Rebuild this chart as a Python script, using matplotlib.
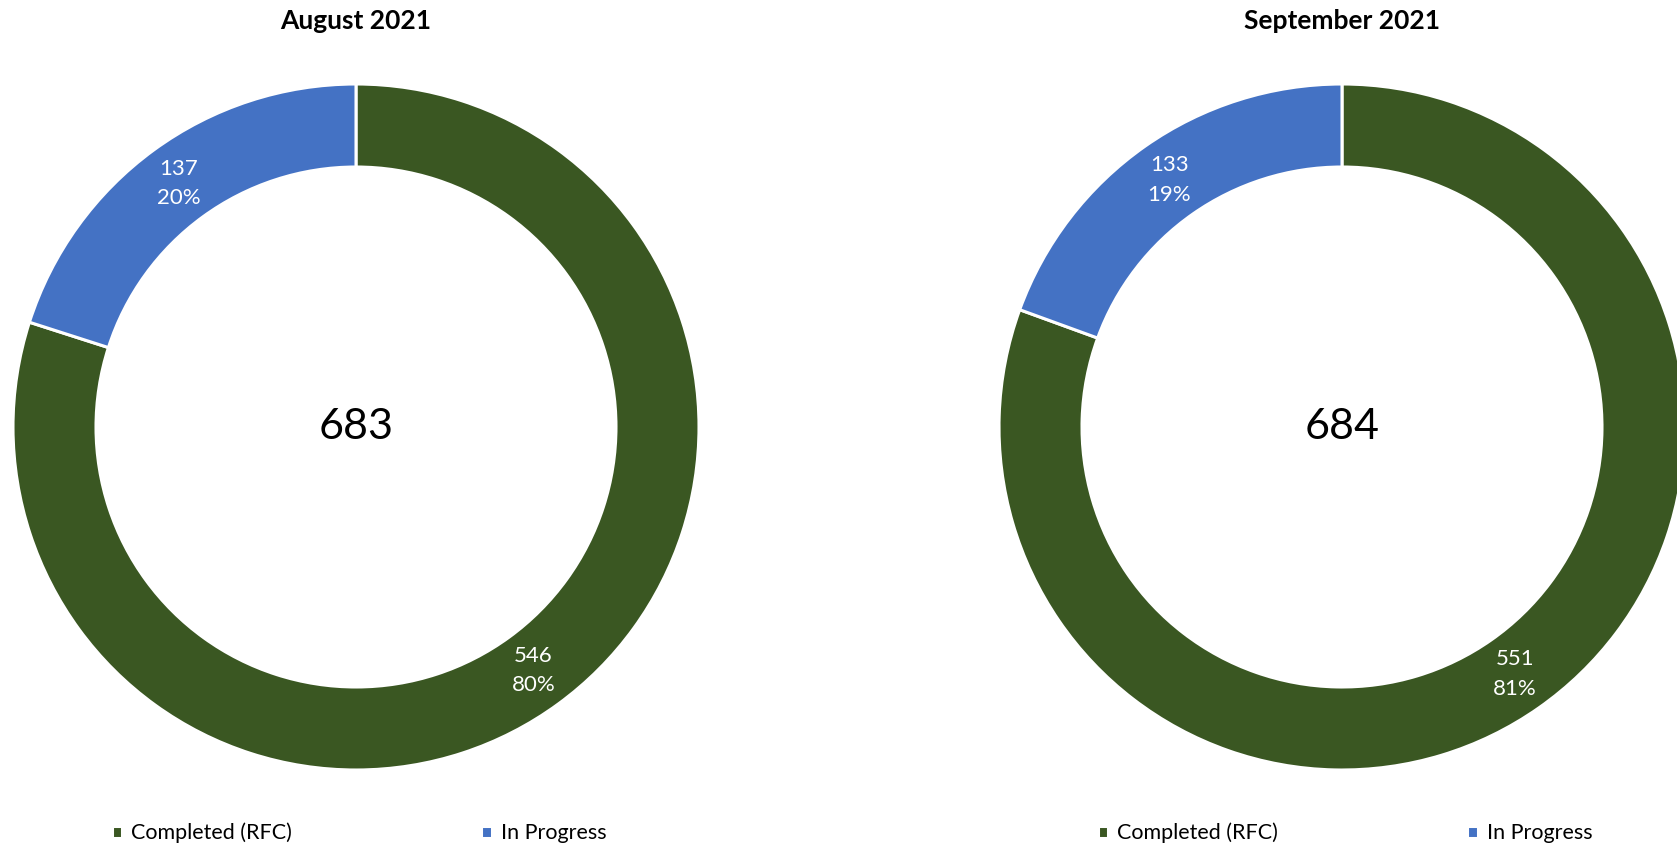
import matplotlib.pyplot as plt

plt.rcParams['font.family'] = ['Lato', 'DejaVu Sans']

# Datos
months = ['August 2021', 'September 2021']
categories = ['Completed (RFC)', 'In Progress']
completed = [546, 551]
in_progress = [137, 133]
colors = ['#3A5722', '#4472C4']

W, H = 1677, 848
fig = plt.figure(figsize=(W / 100, H / 100), dpi=100)

# centro de cada donut en pixeles (desde arriba) y radio
centers_x = [356, 1342]
center_y = 427
R = 343
ring = 0.242


def make_autopct(vals):
    total = sum(vals)

    def fmt(pct):
        n = int(round(pct * total / 100.0))
        return f'{n}\n{pct:.0f}%'
    return fmt


for i, month in enumerate(months):
    vals = [completed[i], in_progress[i]]
    cx = centers_x[i]
    ax = fig.add_axes([(cx - R) / W, (H - center_y - R) / H, 2 * R / W, 2 * R / H])
    wedges, _, autotexts = ax.pie(
        vals, colors=colors, startangle=90, counterclock=False, radius=1,
        autopct=make_autopct(vals), pctdistance=1 - ring / 2,
        wedgeprops=dict(width=ring, edgecolor='white', linewidth=2.2),
        textprops=dict(color='white', fontsize=16, linespacing=1.6))
    for t in autotexts:
        t.set_ha('center')
        t.set_va('center')
    ax.set_xlim(-1, 1)
    ax.set_ylim(-1, 1)
    ax.text(0, 0, str(sum(vals)), ha='center', va='center', fontsize=31)

    fig.text(cx / W, 1 - 21 / H, month, ha='center', va='center',
             fontsize=19, fontweight='bold')

    fig.legend(wedges, categories, loc='center', ncol=2,
               bbox_to_anchor=((cx + 3) / W, 1 - 833 / H), frameon=False,
               fontsize=15.5, handlelength=0.5, handleheight=0.5,
               handletextpad=0.4, columnspacing=8.8)

fig.savefig('out.png', dpi=100)
